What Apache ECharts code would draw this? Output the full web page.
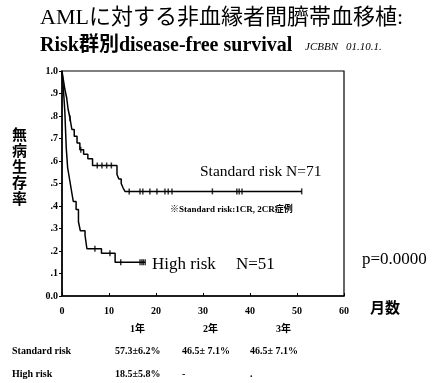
<!DOCTYPE html>
<html><head><meta charset="utf-8">
<script src="https://cdn.jsdelivr.net/npm/echarts@6/dist/echarts.min.js"></script>
<style>html,body{margin:0;padding:0;background:#fff}#c{width:436px;height:383px}</style>
</head><body><div id="c"></div>
<script>
// Kaplan-Meier step data (months, survival)
var stdTime = [0, 0.3, 0.6, 1.0, 1.3, 1.7, 2.1, 2.6, 3.2, 3.8, 4.6, 5.5, 6.5, 11.7, 12.1, 12.6, 13.0, 13.4, 51];
var stdSurv = [1.0, 0.96, 0.92, 0.88, 0.83, 0.79, 0.74, 0.71, 0.68, 0.65, 0.63, 0.61, 0.58, 0.54, 0.52, 0.50, 0.48, 0.465, 0.465];
var highTime = [0, 0.3, 0.6, 0.9, 1.2, 1.6, 2.0, 2.4, 3.0, 3.5, 3.9, 4.9, 5.3, 8.4, 11.3, 17.7];
var highSurv = [1.0, 0.92, 0.82, 0.66, 0.57, 0.52, 0.47, 0.42, 0.385, 0.33, 0.29, 0.27, 0.21, 0.19, 0.15, 0.15];
// censored observations
var stdCensorTime = [1.7, 4.0, 7.5, 8.5, 9.5, 10.5, 14.3, 16.6, 17.2, 18.7, 20.2, 21.9, 22.6, 23.4, 32, 37.2, 37.7, 38.3, 51];
var stdCensorSurv = [0.79, 0.65, 0.58, 0.58, 0.58, 0.58, 0.465, 0.465, 0.465, 0.465, 0.465, 0.465, 0.465, 0.465, 0.465, 0.465, 0.465, 0.465, 0.465];
var highCensorTime = [7.0, 10.2, 12.5, 16.6, 17.0, 17.3, 17.7];
var highCensorSurv = [0.21, 0.19, 0.15, 0.15, 0.15, 0.15, 0.15];
// axis ticks
var xTicks = [0, 10, 20, 30, 40, 50, 60];
var yTickLabels = {'1':'1.0','0.9':'.9','0.8':'.8','0.7':'.7','0.6':'.6','0.5':'.5','0.4':'.4','0.3':'.3','0.2':'.2','0.1':'.1','0':'0.0'};
// table
var tableYears = ['1年', '2年', '3年'];
var tableRows = ['Standard risk', 'High risk'];
var stdTable = ['57.3±6.2%', '46.5± 7.1%', '46.5± 7.1%'];
var highTable = ['18.5±5.8%', '-', '.'];

function zip(a, b){ return a.map(function(v,i){ return [v, b[i]]; }); }

var serif = '"Liberation Serif","Noto Sans CJK JP",serif';
var cjk = '"Noto Sans CJK JP",sans-serif';
var chart = echarts.init(document.getElementById('c'));

var graphics = [
  {type:'text', left:40, top:7, style:{text:'AMLに対する非血縁者間臍帯血移植:', font:'22px '+serif, fill:'#000'}},
  {type:'text', left:40, top:36, style:{text:'Risk群別disease-free survival', font:'bold 20px '+serif, fill:'#000'}},
  {type:'text', left:305, top:42, style:{text:'JCBBN', font:'italic 11px '+serif, fill:'#000'}},
  {type:'text', left:346, top:42, style:{text:'01.10.1.', font:'italic 11px '+serif, fill:'#000'}},
  {type:'text', left:12, top:126, style:{text:'無\n病\n生\n存\n率', font:'bold 15px '+cjk, lineHeight:16, fill:'#000'}},
  {type:'text', left:200, top:164, style:{text:'Standard risk N=71', font:'15.5px '+serif, fill:'#000'}},
  {type:'text', left:170, top:205, style:{text:'※Standard risk:1CR, 2CR症例', font:'bold 9px '+serif, fill:'#000'}},
  {type:'text', left:152, top:256, style:{text:'High risk', font:'17px '+serif, fill:'#000'}},
  {type:'text', left:236, top:256, style:{text:'N=51', font:'17px '+serif, fill:'#000'}},
  {type:'text', left:362, top:251, style:{text:'p=0.0000', font:'17px '+serif, fill:'#000'}},
  {type:'text', left:370, top:300, style:{text:'月数', font:'bold 15px '+cjk, fill:'#000'}}
];
var yearX = [130, 203, 276];
tableYears.forEach(function(t,i){
  graphics.push({type:'text', left:yearX[i], top:324, style:{text:t, font:'bold 10px '+serif, fill:'#000'}});
});
var colX = [115, 182, 250];
tableRows.forEach(function(r,i){
  graphics.push({type:'text', left:12, top:346 + i*23, style:{text:r, font:'bold 10px '+serif, fill:'#000'}});
});
stdTable.forEach(function(t,i){
  graphics.push({type:'text', left:colX[i], top:346, style:{text:t, font:'bold 10px '+serif, fill:'#000'}});
});
highTable.forEach(function(t,i){
  graphics.push({type:'text', left:colX[i], top:369, style:{text:t, font:'bold 10px '+serif, fill:'#000'}});
});

chart.setOption({
  animation:false,
  backgroundColor:'#fff',
  grid:{left:62, right:92, top:71, bottom:87, show:true, borderColor:'#000', borderWidth:1.2, backgroundColor:'transparent'},
  xAxis:{type:'value', min:0, max:60, interval:10,
    axisLine:{show:true, onZero:false, lineStyle:{color:'#000', width:1.5}},
    axisTick:{show:true, inside:true, length:3, lineStyle:{color:'#000'}},
    splitLine:{show:false},
    axisLabel:{color:'#000', fontFamily:serif, fontWeight:'bold', fontSize:10, margin:10,
      formatter:function(v){ return xTicks.indexOf(v) >= 0 ? String(v) : ''; }}
  },
  yAxis:{type:'value', min:0, max:1, interval:0.1,
    axisLine:{show:true, lineStyle:{color:'#000', width:1.5}},
    axisTick:{show:true, length:3, lineStyle:{color:'#000'}},
    splitLine:{show:false},
    axisLabel:{color:'#000', fontFamily:serif, fontWeight:'bold', fontSize:10, margin:4,
      formatter:function(v){ var k = String(Math.round(v*10)/10); return yTickLabels[k] || ''; }}
  },
  series:[
    {type:'line', step:'end', data:zip(stdTime, stdSurv), showSymbol:false, lineStyle:{color:'#000', width:1.5}},
    {type:'line', step:'end', data:zip(highTime, highSurv), showSymbol:false, lineStyle:{color:'#000', width:1.5}},
    {type:'scatter', data:zip(stdCensorTime, stdCensorSurv), symbol:'rect', symbolSize:[1.5,6], itemStyle:{color:'#000'}},
    {type:'scatter', data:zip(highCensorTime, highCensorSurv), symbol:'rect', symbolSize:[1.5,6], itemStyle:{color:'#000'}}
  ],
  graphic:graphics
});
</script></body></html>
